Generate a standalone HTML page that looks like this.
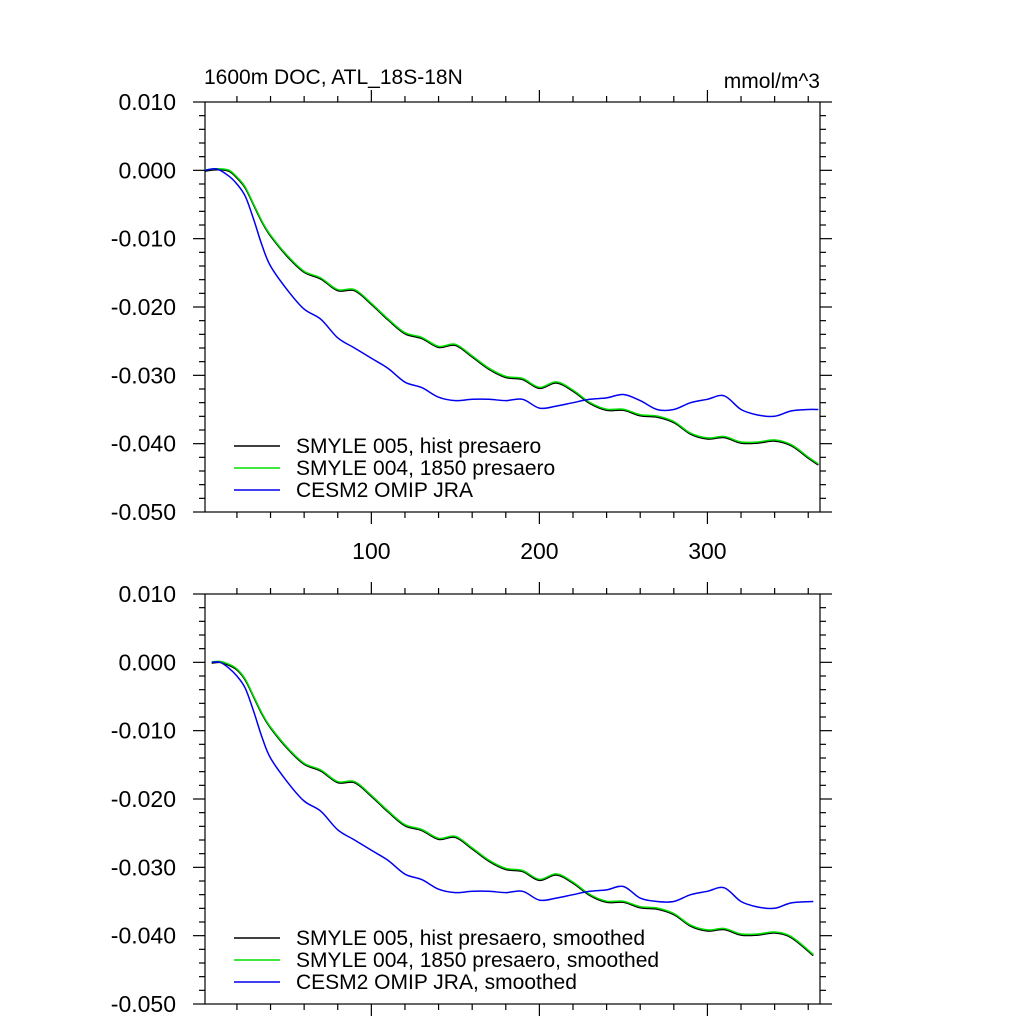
<!DOCTYPE html>
<html><head><meta charset="utf-8"><style>
html,body{margin:0;padding:0;background:#fff}
svg{display:block;font-family:"Liberation Sans",Arial,sans-serif}
</style></head><body>
<svg id="c" width="1024" height="1024" viewBox="0 0 1024 1024"></svg>
<script>
const days=[1,8,15,20,25,30,35,40,50,60,70,80,90,100,110,120,130,140,150,160,170,180,190,200,210,220,230,240,250,260,270,280,290,300,310,320,330,340,350,360,366];
const greenTop=[0,0.0002,0,-0.001,-0.0025,-0.005,-0.0075,-0.0095,-0.0125,-0.0148,-0.0158,-0.0175,-0.0175,-0.0195,-0.0218,-0.0238,-0.0245,-0.0258,-0.0255,-0.0272,-0.029,-0.0302,-0.0305,-0.0318,-0.031,-0.0322,-0.034,-0.035,-0.035,-0.0358,-0.036,-0.0368,-0.0385,-0.0392,-0.039,-0.0398,-0.0398,-0.0395,-0.0402,-0.042,-0.043];
const blueTop=[0,0.0002,-0.0008,-0.002,-0.0038,-0.0072,-0.011,-0.014,-0.0175,-0.0203,-0.0218,-0.0245,-0.026,-0.0275,-0.029,-0.031,-0.0318,-0.0332,-0.0337,-0.0335,-0.0335,-0.0337,-0.0335,-0.0348,-0.0345,-0.034,-0.0335,-0.0333,-0.0328,-0.0337,-0.035,-0.035,-0.034,-0.0335,-0.033,-0.035,-0.0358,-0.036,-0.0352,-0.035,-0.035];
const daysS=[5,10,15,20,25,30,35,40,50,60,70,80,90,100,110,120,130,140,150,160,170,180,190,200,210,220,230,240,250,260,270,280,290,300,310,320,330,340,350,363];
const greenBot=[0,0.0001,-0.0003,-0.001,-0.0025,-0.005,-0.0075,-0.0095,-0.0125,-0.0148,-0.0158,-0.0175,-0.0175,-0.0195,-0.0218,-0.0238,-0.0245,-0.0258,-0.0255,-0.0272,-0.029,-0.0302,-0.0305,-0.0318,-0.031,-0.0322,-0.034,-0.035,-0.035,-0.0358,-0.036,-0.0368,-0.0385,-0.0392,-0.039,-0.0398,-0.0398,-0.0395,-0.0402,-0.0428];
const blueBot=[0,0,-0.0008,-0.002,-0.0038,-0.0072,-0.011,-0.014,-0.0175,-0.0203,-0.0218,-0.0245,-0.026,-0.0275,-0.029,-0.031,-0.0318,-0.0332,-0.0337,-0.0335,-0.0335,-0.0337,-0.0335,-0.0348,-0.0345,-0.034,-0.0335,-0.0333,-0.0328,-0.0345,-0.035,-0.035,-0.034,-0.0335,-0.033,-0.035,-0.0358,-0.036,-0.0352,-0.035];
const yTicks=[0.01,0,-0.01,-0.02,-0.03,-0.04,-0.05];
const yTickLabels=["0.010","0.000","-0.010","-0.020","-0.030","-0.040","-0.050"];
const xTicks=[100,200,300];
const NS="http://www.w3.org/2000/svg";
const svg=document.getElementById('c');
function el(t,a,p){const e=document.createElementNS(NS,t);for(const k in a)e.setAttribute(k,a[k]);(p||svg).appendChild(e);return e;}
const X0=205,X1=820,XMIN=1,XMAX=367;
const sx=v=>X0+(v-XMIN)/(XMAX-XMIN)*(X1-X0);
function smooth(pts){
  let d='M'+pts[0][0].toFixed(1)+','+pts[0][1].toFixed(1);
  for(let i=0;i<pts.length-1;i++){
    const p0=pts[Math.max(0,i-1)],p1=pts[i],p2=pts[i+1],p3=pts[Math.min(pts.length-1,i+2)];
    const c1=[p1[0]+(p2[0]-p0[0])/6,p1[1]+(p2[1]-p0[1])/6];
    const c2=[p2[0]-(p3[0]-p1[0])/6,p2[1]-(p3[1]-p1[1])/6];
    d+='C'+c1[0].toFixed(1)+','+c1[1].toFixed(1)+' '+c2[0].toFixed(1)+','+c2[1].toFixed(1)+' '+p2[0].toFixed(1)+','+p2[1].toFixed(1);
  }
  return d;
}
function panel(top,name,xlabels,gData,bData,xd,legendTexts){
  const bot=top+410;
  const sy=v=>top+(0.01-v)/0.06*(bot-top);
  const g=el('g',{});
  
  
  const st={stroke:'#000','stroke-width':1.2,fill:'none'};
  el('rect',Object.assign({x:X0,y:top,width:X1-X0,height:bot-top},st),g);
  for(let v=-0.05;v<=0.0101;v+=0.002){
    const y=sy(v);const major=Math.abs(Math.round(v*1000)%10)<0.5;const L=major?12:6;
    el('line',Object.assign({x1:X0-L,x2:X0,y1:y,y2:y},st),g);
    el('line',Object.assign({x1:X1,x2:X1+L,y1:y,y2:y},st),g);
  }
  yTicks.forEach((v,i)=>{const t=el('text',{x:176,y:sy(v)+8,'text-anchor':'end','font-size':23},g);t.textContent=yTickLabels[i];
    });
  for(let v=20;v<=360;v+=20){
    const x=sx(v);const L=v%100===0?12:6;
    el('line',Object.assign({x1:x,x2:x,y1:bot,y2:bot+L},st),g);
    el('line',Object.assign({x1:x,x2:x,y1:top-L,y2:top},st),g);
  }
  if(xlabels)xTicks.forEach(v=>{const t=el('text',{x:sx(v),y:bot+47,'text-anchor':'middle','font-size':23},g);t.textContent=String(v);
    });
  const path=(arr,col,off)=>{const pts=arr.map((v,i)=>[sx(xd[i]),sy(v)+off]);
    return el('path',{d:smooth(pts),stroke:col,'stroke-width':1.5,fill:'none','stroke-linejoin':'round'},g);};
  const pk=path(gData,'#000',0.8);
  const pg=path(gData,'#00e000',-0.3);
  const pb=path(bData,'#0000ee',0);
  const cols=['#000','#00e000','#0000ee'];
  legendTexts.forEach((s,i)=>{const y=bot-66+i*22;
    const l=el('line',{x1:234,x2:280,y1:y,y2:y,stroke:cols[i],'stroke-width':1.5},g);
    
    const t=el('text',{x:296,y:y+7,'font-size':21},g);t.textContent=s;
    });
}
panel(102,'top-panel',true,greenTop,blueTop,days,["SMYLE 005, hist presaero","SMYLE 004, 1850 presaero","CESM2 OMIP JRA"]);
panel(594,'bottom-panel',false,greenBot,blueBot,daysS,["SMYLE 005, hist presaero, smoothed","SMYLE 004, 1850 presaero, smoothed","CESM2 OMIP JRA, smoothed"]);
const t1=el('text',{x:204,y:84,'font-size':21});t1.textContent="1600m DOC, ATL_18S-18N";

const t2=el('text',{x:820,y:88,'font-size':21,'text-anchor':'end'});t2.textContent="mmol/m^3";

</script>
</body></html>
